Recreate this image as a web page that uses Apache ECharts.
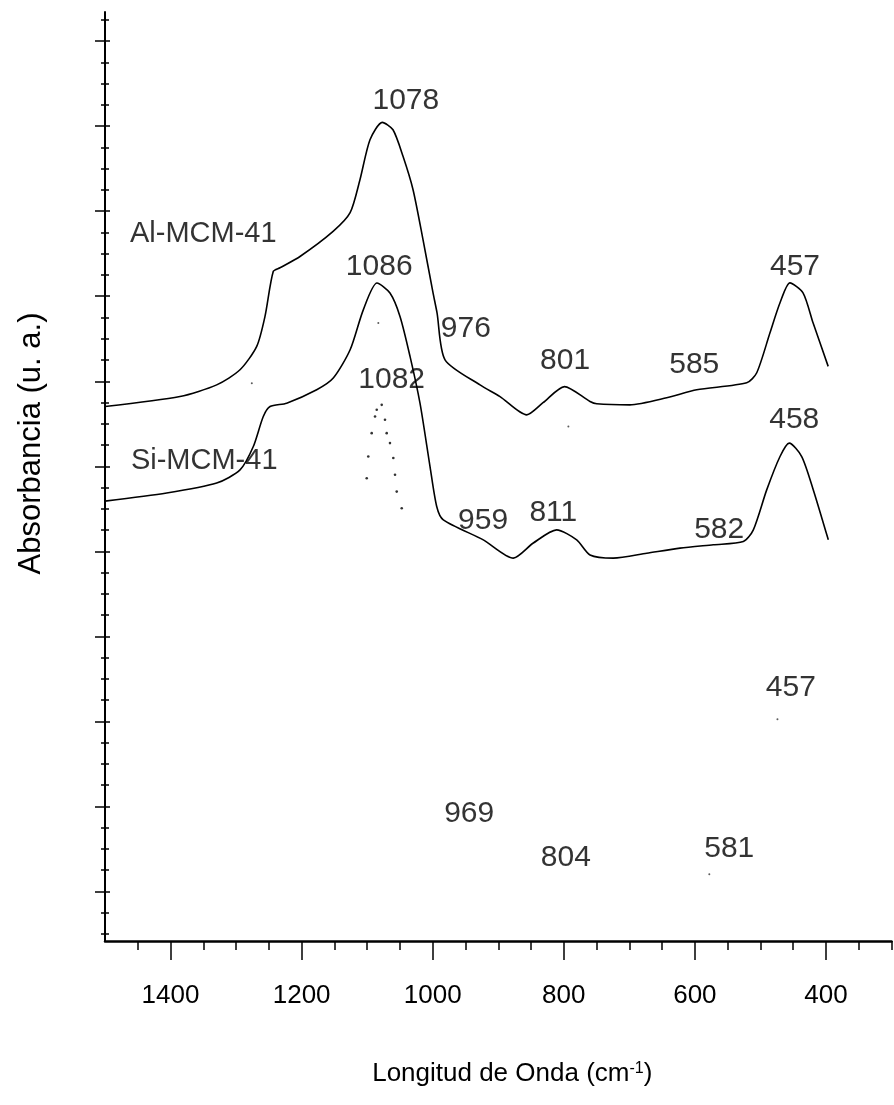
<!DOCTYPE html>
<html>
<head>
<meta charset="utf-8">
<script src="https://cdn.jsdelivr.net/npm/echarts@6/dist/echarts.min.js"></script>
<style>
html,body{margin:0;padding:0;background:#fff;}
#chart{width:894px;height:1105px;}
</style>
</head>
<body>
<div id="chart"></div>
<script>
// ---- Data (x: wavenumber cm-1, y: absorbance, arbitrary units) ----
const alWavenumber = [1500, 1385.6, 1329.6, 1294, 1268.5, 1255.9, 1243.2, 1233, 1202.5, 1152, 1126, 1111, 1095.7, 1077, 1060.6, 1045.3, 1030, 1014.8, 999.5, 993.4, 981.2, 927.8, 897.3, 856.6, 831.7, 799, 760, 749.8, 699.3, 643, 597.2, 520.9, 505.6, 485.4, 470.1, 455, 435, 419.7, 396.6];
const alAbsorbance = [25.14, 25.61, 26.16, 26.87, 27.97, 29.38, 31.5, 31.67, 32.2, 33.38, 34.26, 35.81, 37.69, 38.51, 38.16, 36.91, 35.34, 32.99, 30.49, 29.55, 27.34, 26.16, 25.61, 24.75, 25.32, 26.08, 25.38, 25.27, 25.22, 25.55, 25.93, 26.26, 26.73, 28.61, 30.02, 30.96, 30.49, 29.08, 27.03];

const siWavenumber = [1500, 1405.9, 1329.6, 1294, 1273.7, 1258.5, 1248.2, 1222.8, 1177, 1151.7, 1126, 1105.9, 1085, 1065.2, 1049.9, 1034.6, 1019.4, 1004.1, 993.9, 983.8, 922.8, 877, 846.5, 811, 780.3, 760, 724.4, 673.5, 622.7, 571.9, 526.1, 510.8, 490.4, 470.1, 456, 437, 419.3, 396.4];
const siAbsorbance = [20.69, 21.07, 21.54, 22.16, 23.26, 24.67, 25.14, 25.3, 25.93, 26.48, 27.81, 29.69, 30.95, 30.48, 29.38, 27.5, 25.3, 22.32, 20.44, 19.81, 18.87, 18.01, 18.72, 19.34, 18.87, 18.16, 18.01, 18.24, 18.48, 18.64, 18.79, 19.34, 21.22, 22.79, 23.42, 22.79, 21.22, 18.87];

// faint dotted remnant of the third spectrum around 1082 cm-1
const thirdWavenumber = [1077.8, 1085.4, 1088, 1072.8, 1093.1, 1070.2, 1065.2, 1098.3, 1060.1, 1100.7, 1057.5, 1054.9, 1047.3];
const thirdAbsorbance = [25.22, 24.99, 24.67, 24.52, 23.89, 23.89, 23.42, 22.79, 22.72, 21.77, 21.93, 21.14, 20.36];

// isolated specks visible in the scan
const speckWavenumber = [1083, 1276, 793, 474, 578];
const speckAbsorbance = [29.07, 26.24, 24.2, 10.43, 3.14];

// peak annotations
const annotationText = ['1078', '1086', '976', '1082', '959', '801', '585', '457', '458', '811', '582', '457', '969', '804', '581', 'Al-MCM-41', 'Si-MCM-41'];
const annotationX = [1041, 1081.6, 949.5, 1062.6, 923.2, 798.1, 601, 447.2, 448.4, 816, 562.9, 453.6, 944.3, 796.9, 547.6, 1350, 1348.6];
const annotationY = [39.54, 31.73, 28.79, 26.4, 19.76, 27.3, 27.11, 31.73, 24.52, 20.13, 19.34, 11.93, 5.97, 3.93, 4.32, 33.25, 22.6];

// axis ticks
const xTickLabels = [1400, 1200, 1000, 800, 600, 400];
const xMinorTicks = [1450, 1350, 1300, 1250, 1150, 1100, 1050, 950, 900, 850, 750, 700, 650, 550, 500, 450, 350, 300];
const yMajorTicks = [2.33, 6.33, 10.33, 14.33, 18.33, 22.33, 26.33, 30.33, 34.33, 38.33, 42.33];
const yMinorTicks = [0.33, 1.33, 3.33, 4.33, 5.33, 7.33, 8.33, 9.33, 11.33, 12.33, 13.33, 15.33, 16.33, 17.33, 19.33, 20.33, 21.33, 23.33, 24.33, 25.33, 27.33, 28.33, 29.33, 31.33, 32.33, 33.33, 35.33, 36.33, 37.33, 39.33, 40.33, 41.33, 43.33];

const zip = (a, b) => a.map((v, i) => [v, b[i]]);
const FONT = '"Liberation Sans", Arial, sans-serif';
const X_MIN = 300, X_MAX = 1500, Y_MIN = 0, Y_MAX = 43.7;

function yAx(ticks, len, inside, showLine) {
  return {
    type: 'value', min: Y_MIN, max: Y_MAX, position: 'left',
    axisLine: { show: showLine, onZero: false, lineStyle: { color: '#000', width: 2 } },
    axisTick: { show: true, customValues: ticks, inside: inside, length: len, lineStyle: { color: '#000', width: 1.5 } },
    axisLabel: { show: false },
    splitLine: { show: false }
  };
}

const chart = echarts.init(document.getElementById('chart'), null, { renderer: 'canvas' });
chart.setOption({
  backgroundColor: '#fff',
  animation: false,
  grid: { left: 105, right: 2.5, top: 12, bottom: 164, containLabel: false },
  xAxis: [
    {
      type: 'value', min: X_MIN, max: X_MAX, inverse: true, position: 'bottom',
      axisLine: { show: true, onZero: false, lineStyle: { color: '#000', width: 2.5 } },
      axisTick: { show: true, customValues: xTickLabels, length: 19, lineStyle: { color: '#000', width: 1.5 } },
      axisLabel: { show: true, customValues: xTickLabels, formatter: v => String(v), margin: 42, color: '#000', fontSize: 26, fontFamily: FONT },
      splitLine: { show: false },
      name: 'Longitud de Onda (cm{sup|-1})',
      nameLocation: 'middle', nameGap: 120,
      nameTextStyle: {
        color: '#000', fontSize: 26, fontFamily: FONT, padding: [0, 0, 0, 28],
        rich: { sup: { fontSize: 16, fontFamily: FONT, color: '#000', verticalAlign: 'top' } }
      }
    },
    {
      type: 'value', min: X_MIN, max: X_MAX, inverse: true, position: 'bottom', offset: 0,
      axisLine: { show: false, onZero: false },
      axisTick: { show: true, customValues: xMinorTicks, length: 9, lineStyle: { color: '#000', width: 1.5 } },
      axisLabel: { show: false },
      splitLine: { show: false }
    }
  ],
  yAxis: [
    Object.assign(yAx(yMajorTicks, 10, false, true), {
      name: 'Absorbancia (u. a.)', nameLocation: 'middle', nameRotate: 90, nameGap: 58,
      nameTextStyle: { color: '#000', fontSize: 31, fontFamily: FONT, padding: [0, 0, 0, 66] }
    }),
    yAx(yMajorTicks, 5, true, false),
    yAx(yMinorTicks, 4, false, false),
    yAx(yMinorTicks, 4, true, false)
  ],
  series: [
    {
      name: 'Al-MCM-41', type: 'line', data: zip(alWavenumber, alAbsorbance),
      smooth: 0.25, showSymbol: false, lineStyle: { color: '#000', width: 1.6 }
    },
    {
      name: 'Si-MCM-41', type: 'line', data: zip(siWavenumber, siAbsorbance),
      smooth: 0.25, showSymbol: false, lineStyle: { color: '#000', width: 1.6 }
    },
    {
      name: 'third', type: 'scatter', data: zip(thirdWavenumber, thirdAbsorbance),
      symbol: 'circle', symbolSize: 2.6, itemStyle: { color: '#000' }
    },
    {
      name: 'specks', type: 'scatter', data: zip(speckWavenumber, speckAbsorbance),
      symbol: 'circle', symbolSize: 2, itemStyle: { color: '#333' }
    },
    {
      name: 'annotations', type: 'scatter', symbolSize: 0, silent: true,
      data: annotationText.map((t, i) => ({
        value: [annotationX[i], annotationY[i]],
        label: {
          show: true, position: 'inside', formatter: t, color: '#000',
          fontFamily: FONT, fontSize: t.indexOf('MCM') >= 0 ? 29 : 30
        }
      }))
    }
  ]
});
</script>
</body>
</html>
